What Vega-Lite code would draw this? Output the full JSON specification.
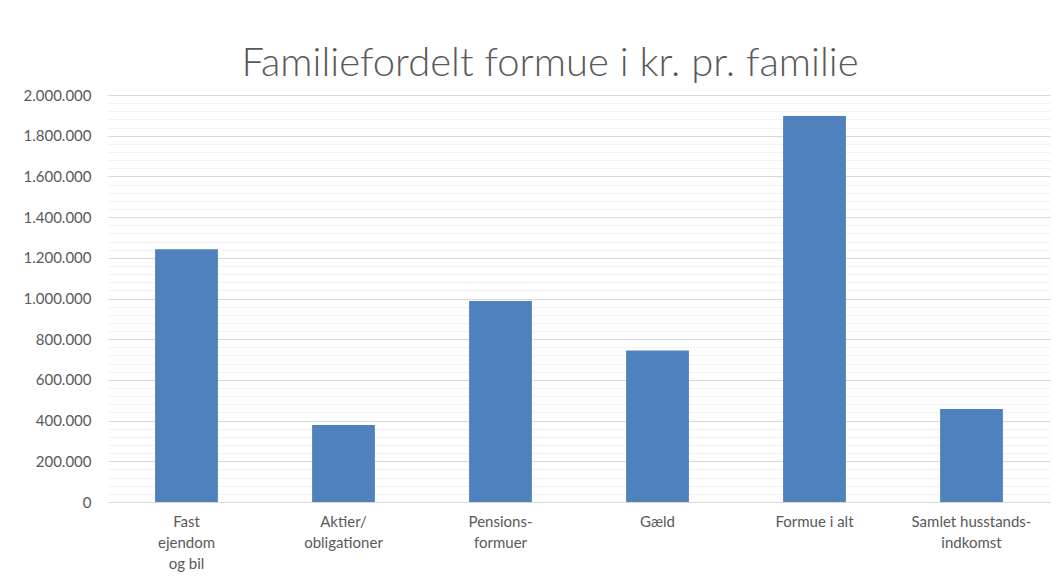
{
  "$schema": "https://vega.github.io/schema/vega-lite/v6.json",
  "width": 942,
  "height": 407,
  "autosize": {"type": "none"},
  "padding": {"left": 108, "top": 95, "right": 8, "bottom": 81},
  "background": "white",
  "config": {
    "view": {"stroke": null},
    "locale": {"number": {"decimal": ",", "thousands": ".", "grouping": [3], "currency": ["", " kr."]}}
  },
  "title": {
    "text": "Familiefordelt formue i kr. pr. familie",
    "font": "Lato",
    "fontWeight": 300,
    "fontSize": 40,
    "color": "#595959",
    "anchor": "middle",
    "dx": -29,
    "dy": 40,
    "baseline": "alphabetic",
    "offset": 12
  },
  "data": {
    "values": [
      {"kategori": "Fast|ejendom|og bil", "formue": 1242000},
      {"kategori": "Aktier/|obligationer", "formue": 378000},
      {"kategori": "Pensions-|formuer", "formue": 988000},
      {"kategori": "Gæld", "formue": 745000},
      {"kategori": "Formue i alt", "formue": 1897000},
      {"kategori": "Samlet husstands-|indkomst", "formue": 457000}
    ]
  },
  "mark": {"type": "bar", "color": "#4f81bd"},
  "encoding": {
    "x": {
      "field": "kategori",
      "type": "nominal",
      "sort": null,
      "scale": {"paddingInner": 0.6, "paddingOuter": 0.3},
      "axis": {
        "title": null,
        "labelAngle": 0,
        "labelExpr": "split(datum.label, '|')",
        "labelFont": "Lato",
        "labelFontSize": 15,
        "labelColor": "#595959",
        "labelLineHeight": 21,
        "labelPadding": 12,
        "labelBaseline": "top",
        "ticks": false,
        "domainColor": "#d9d9d9",
        "domainWidth": 1
      }
    },
    "y": {
      "field": "formue",
      "type": "quantitative",
      "scale": {"domain": [0, 2000000], "nice": false},
      "axis": {
        "title": null,
        "values": [0,40000,80000,120000,160000,200000,240000,280000,320000,360000,400000,440000,480000,520000,560000,600000,640000,680000,720000,760000,800000,840000,880000,920000,960000,1000000,1040000,1080000,1120000,1160000,1200000,1240000,1280000,1320000,1360000,1400000,1440000,1480000,1520000,1560000,1600000,1640000,1680000,1720000,1760000,1800000,1840000,1880000,1920000,1960000,2000000],
        "labelExpr": "datum.value % 200000 === 0 ? format(datum.value, ',d') : ''",
        "gridColor": {"condition": {"test": "datum.value % 200000 === 0", "value": "#d9d9d9"}, "value": "#f2f2f2"},
        "gridWidth": 1,
        "domain": false,
        "ticks": false,
        "labelFont": "Lato",
        "labelFontSize": 15,
        "labelColor": "#595959",
        "labelPadding": 17,
        "labelOverlap": false
      }
    }
  }
}
